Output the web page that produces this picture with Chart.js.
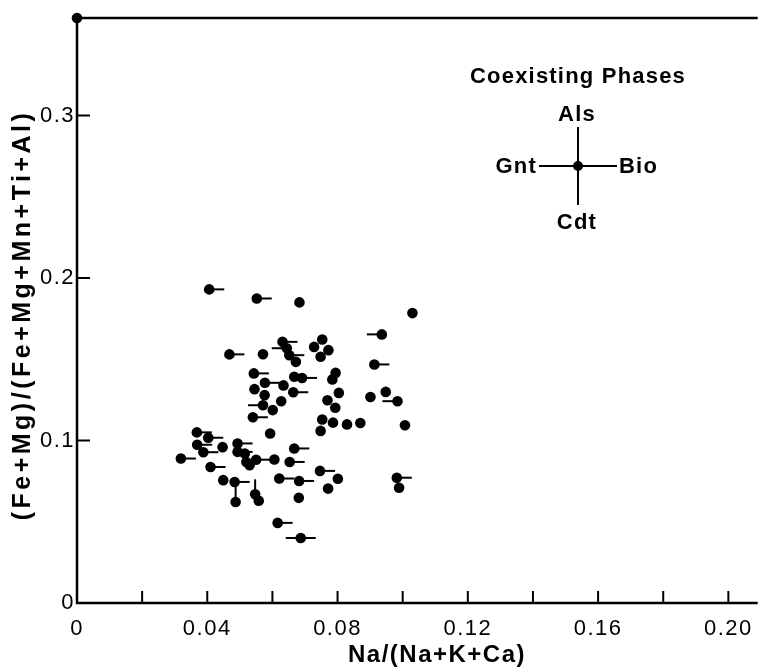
<!DOCTYPE html>
<html><head><meta charset="utf-8">
<script src="https://cdn.jsdelivr.net/npm/chart.js@4"></script>
<style>html,body{margin:0;padding:0;background:#fff}</style>
</head><body>
<canvas id="c" width="763" height="669"></canvas>
<script>
// Na/(Na+K+Ca)
const naRatio = [0.0000,
 0.0406,0.0552,0.0683,0.1030,0.0936,0.0631,0.0644,0.0652,0.0672,0.0753,
 0.0728,0.0772,0.0748,0.0913,0.0468,0.0571,0.0543,0.0577,0.0634,0.0664,
 0.0667,0.0691,0.0794,0.0784,0.0804,0.0769,0.0793,0.0901,0.0948,0.0984,
 0.0545,0.0576,0.0571,0.0601,0.0627,0.0540,0.0753,0.0786,0.0829,0.0870,
 0.1007,0.0748,0.0593,0.0368,0.0403,0.0369,0.0388,0.0447,0.0493,0.0493,
 0.0515,0.0520,0.0530,0.0550,0.0667,0.0319,0.0606,0.0653,0.0410,0.0746,
 0.0801,0.0982,0.0989,0.0449,0.0484,0.0621,0.0682,0.0771,0.0681,0.0487,
 0.0547,0.0558,0.0616,0.0687];
// (Fe+Mg)/(Fe+Mg+Mn+Ti+Al)
const feMgRatio = [0.360,
 0.1930,0.1874,0.1850,0.1784,0.1653,0.1607,0.1568,0.1525,0.1484,0.1622,
 0.1576,0.1556,0.1515,0.1468,0.1530,0.1531,0.1413,0.1355,0.1339,0.1297,
 0.1392,0.1385,0.1416,0.1376,0.1293,0.1248,0.1202,0.1268,0.1299,0.1242,
 0.1316,0.1279,0.1217,0.1187,0.1242,0.1143,0.1129,0.1110,0.1099,0.1108,
 0.1094,0.1059,0.1043,0.1050,0.1017,0.0974,0.0928,0.0959,0.0982,0.0930,
 0.0920,0.0868,0.0848,0.0882,0.0951,0.0889,0.0883,0.0868,0.0837,0.0813,
 0.0765,0.0771,0.0709,0.0756,0.0745,0.0766,0.0751,0.0704,0.0647,0.0622,
 0.0669,0.0629,0.0493,0.0400];
// coexisting phases: G = Gnt (left), B = Bio (right), A = Als (up), C = Cdt (down)
const phases = ['B',
 'B','B','','','G','B','G','B','','',
 '','','','B','B','','B','B','','B',
 '','B','','','','','','','','G',
 '','','G','','','B','','','','',
 '','','','B','B','B','B','','B','B',
 '','','','B','B','B','','B','B','B',
 '','B','','','B','B','B','','','A',
 'A','','B','GB'];
const xTickValues = [0,0.02,0.04,0.06,0.08,0.10,0.12,0.14,0.16,0.18,0.20];
const xTickLabels = ['0','','0.04','','0.08','','0.12','','0.16','','0.20'];
const yTickValues = [0,0.1,0.2,0.3];
const yTickLabels = ['0','0.1','0.2','0.3'];
const xTitle = 'Na/(Na+K+Ca)';
const yTitle = '(Fe+Mg)/(Fe+Mg+Mn+Ti+Al)';
const legendTitle = 'Coexisting Phases';
const legendPhases = {up:'Als', left:'Gnt', right:'Bio', down:'Cdt'};

const FONT = '"Liberation Sans", Arial, sans-serif';

const decor = {
  id: 'decor',
  beforeDraw(chart){ chart.ctx.letterSpacing = '1.5px'; },
  beforeDatasetsDraw(chart){
    const {ctx, scales:{x, y}} = chart;
    ctx.save();
    ctx.strokeStyle = '#000'; ctx.lineWidth = 2;
    const L = 15;
    naRatio.forEach((v, i) => {
      const px = x.getPixelForValue(v), py = y.getPixelForValue(feMgRatio[i]);
      const p = phases[i];
      ctx.beginPath();
      if (p.includes('B')) { ctx.moveTo(px, py); ctx.lineTo(px + L, py); }
      if (p.includes('G')) { ctx.moveTo(px, py); ctx.lineTo(px - L, py); }
      if (p.includes('A')) { ctx.moveTo(px, py); ctx.lineTo(px, py - L); }
      if (p.includes('C')) { ctx.moveTo(px, py); ctx.lineTo(px, py + L); }
      ctx.stroke();
    });
    ctx.restore();
  },
  afterDraw(chart){
    const {ctx, chartArea:a, scales:{x, y}} = chart;
    ctx.save();
    ctx.strokeStyle = '#000'; ctx.fillStyle = '#000';
    ctx.lineWidth = 2.5;
    ctx.beginPath();
    ctx.moveTo(a.left, a.top); ctx.lineTo(a.right, a.top);
    ctx.moveTo(a.left, a.top - 1); ctx.lineTo(a.left, a.bottom);
    ctx.lineTo(a.right, a.bottom);
    ctx.stroke();
    ctx.lineWidth = 2;
    ctx.beginPath();
    xTickValues.forEach(v => { if (v === 0) return; const px = x.getPixelForValue(v); ctx.moveTo(px, a.bottom); ctx.lineTo(px, a.bottom - 12); });
    yTickValues.forEach(v => { if (v === 0) return; const py = y.getPixelForValue(v); ctx.moveTo(a.left, py); ctx.lineTo(a.left + 13, py); });
    ctx.stroke();

    // axis titles
    ctx.textBaseline = 'middle';
    ctx.textAlign = 'center';
    ctx.font = 'bold 24px ' + FONT;
    ctx.letterSpacing = '1.5px';
    ctx.fillText(xTitle, 437, 655);
    ctx.save();
    ctx.translate(23, 315);
    ctx.rotate(-Math.PI / 2);
    ctx.font = 'bold 25px ' + FONT;
    ctx.letterSpacing = '3.5px';
    ctx.fillText(yTitle, 0, 0);
    ctx.restore();

    // legend key
    const cx = 578, cy = 166, arm = 39;
    ctx.font = 'bold 22px ' + FONT;
    ctx.letterSpacing = '1.2px';
    ctx.textBaseline = 'middle';
    ctx.textAlign = 'center';
    ctx.fillText(legendTitle, cx, 77);
    ctx.fillText(legendPhases.up, cx - 1, 115);
    ctx.fillText(legendPhases.down, cx - 1, 223);
    ctx.textAlign = 'right';
    ctx.fillText(legendPhases.left, cx - arm - 2, cy + 1);
    ctx.textAlign = 'left';
    ctx.fillText(legendPhases.right, cx + arm + 2, cy + 1);
    ctx.lineWidth = 2;
    ctx.beginPath();
    ctx.moveTo(cx, cy - arm); ctx.lineTo(cx, cy + arm);
    ctx.moveTo(cx - arm, cy); ctx.lineTo(cx + arm, cy);
    ctx.stroke();
    ctx.beginPath(); ctx.arc(cx, cy, 5, 0, Math.PI * 2); ctx.fill();
    ctx.restore();
  }
};

new Chart(document.getElementById('c'), {
  type: 'scatter',
  data: { datasets: [{
    data: naRatio.map((v, i) => ({x: v, y: feMgRatio[i]})),
    backgroundColor: '#000', borderColor: '#000', borderWidth: 0,
    pointRadius: 5.3, pointHoverRadius: 5.3, clip: false
  }]},
  options: {
    responsive: false, animation: false, devicePixelRatio: 1,
    layout: { padding: { top: 18, right: 0, left: 0, bottom: 0 } },
    plugins: { legend: {display: false}, tooltip: {enabled: false} },
    scales: {
      x: {
        type: 'linear', min: 0, max: 0.209,
        afterBuildTicks: s => { s.ticks = xTickValues.map(v => ({value: v})); },
        afterFit: s => { s.height = 66; },
        grid: { display: false, drawTicks: false }, border: { display: false },
        ticks: { autoSkip: false, maxRotation: 0, padding: 13, color: '#000',
          font: { family: FONT, size: 22 }, callback: (v, i) => xTickLabels[i] },
        title: { display: false }
      },
      y: {
        type: 'linear', min: 0, max: 0.36,
        afterBuildTicks: s => { s.ticks = yTickValues.map(v => ({value: v})); },
        afterFit: s => { s.width = 77; },
        grid: { display: false, drawTicks: false }, border: { display: false },
        ticks: { autoSkip: false, padding: 2, color: '#000',
          font: { family: FONT, size: 22 }, callback: (v, i) => yTickLabels[i] },
        title: { display: false }
      }
    }
  },
  plugins: [decor]
});
</script>
</body></html>
